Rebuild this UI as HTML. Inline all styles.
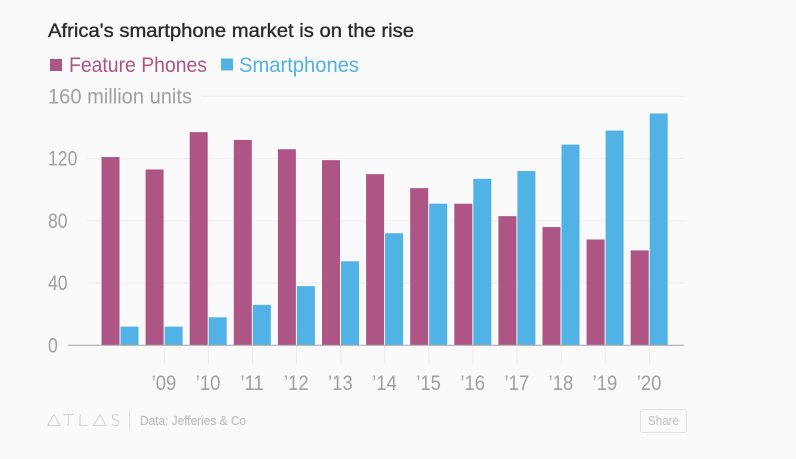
<!DOCTYPE html>
<html>
<head>
<meta charset="utf-8">
<style>
html,body{margin:0;padding:0;background:#fafafa;width:796px;height:459px;overflow:hidden}
svg{display:block;font-family:"Liberation Sans",sans-serif}
</style>
</head>
<body>
<svg id="chart" width="796" height="459" viewBox="0 0 796 459" xmlns="http://www.w3.org/2000/svg">
<rect width="796" height="459" fill="#fafafa"/>
<text x="48" y="37" font-size="19" fill="#2b2b2b" stroke="#2b2b2b" stroke-width="0.35" textLength="366" lengthAdjust="spacingAndGlyphs">Africa's smartphone market is on the rise</text>
<rect x="50" y="59" width="12" height="12" fill="#ad5685"/>
<text x="69" y="72" font-size="21" fill="#ad5685" textLength="138" lengthAdjust="spacingAndGlyphs">Feature Phones</text>
<rect x="221" y="58.5" width="12" height="12" fill="#51b2e5"/>
<text x="239" y="72" font-size="21" fill="#51b2e5" textLength="120" lengthAdjust="spacingAndGlyphs">Smartphones</text>
<g id="grid"></g>
<g id="ticks"></g>
<g id="bars"></g>
<g id="labels"></g>
<line x1="68" x2="684" y1="345.3" y2="345.3" stroke="#a8a4a0" stroke-width="1"/>
<g fill="none" stroke="#d0d0d0" stroke-width="1">
<path d="M47.5 425.5 L54 414.5 L60 425.5 Z"/>
<path d="M63.5 414.5 H73.5 M68.5 414.5 V425.5"/>
<path d="M80 414.5 V425.5 H88"/>
<path d="M93.5 425.5 L100 414.5 L106 425.5 Z"/>
<path d="M118.5 416 C116 413.5 112 414.5 112.5 417.5 C113 420.5 119 419.5 119 423 C119 426.5 114 426.5 112 424"/>
</g>
<line x1="129.5" x2="129.5" y1="412" y2="429" stroke="#dedede" stroke-width="1"/>
<text x="140" y="425" font-size="12.5" fill="#c2c0bd" stroke="#c2c0bd" stroke-width="0.2" textLength="106" lengthAdjust="spacingAndGlyphs">Data: Jefferies &amp; Co</text>
<g>
<rect x="640.5" y="409.5" width="46" height="23" rx="2" fill="#fafafa" stroke="#e2e2e2" stroke-width="1"/>
<text x="663.5" y="425" font-size="12.5" fill="#c0c0c0" text-anchor="middle" textLength="31" lengthAdjust="spacingAndGlyphs">Share</text>
</g>
</svg>
<script>
var years = ["2008","’09","’10","’11","’12","’13","’14","’15","’16","’17","’18","’19","’20"];
var featurePhones = [121,113,137,132,126,119,110,101,91,83,76,68,61];
var smartphones = [12,12,18,26,38,54,72,91,107,112,129,138,149];
var yTicks = [0,40,80,120,160];

var NS = "http://www.w3.org/2000/svg";
function yScale(v){ return 345.3 - v * 1.556; }
function xScale(i){ return 120.2 + i * 44.1; }

function make(tag, attrs, parent){
  var el = document.createElementNS(NS, tag);
  for (var k in attrs) el.setAttribute(k, attrs[k]);
  document.getElementById(parent).appendChild(el);
  return el;
}

function squeeze(el, factor){
  var w = el.getComputedTextLength();
  el.setAttribute("textLength", (w * factor).toFixed(1));
  el.setAttribute("lengthAdjust", "spacingAndGlyphs");
}

yTicks.forEach(function(t){
  var y = yScale(t);
  if (t > 0) {
    var line = make("line", {x1: t === 160 ? 201 : 87, x2: 684, y1: y, y2: y, stroke: "#efefef", "stroke-width": 1}, "grid");
    
    
  }
  var label = make("text", {x: 48, y: y + 7, "font-size": 21.5, fill: "#a3a09c"}, "labels");
  
  
  label.textContent = t === 160 ? "160 million units" : String(t);
  if (t === 160) {
    label.setAttribute("textLength", "144");
    label.setAttribute("lengthAdjust", "spacingAndGlyphs");
  } else {
    squeeze(label, 0.82);
  }
});

years.forEach(function(year, i){
  var x = xScale(i);
  var fy = yScale(featurePhones[i]);
  var sy = yScale(smartphones[i]);
  var fBar = make("rect", {x: x - 18.7, y: fy, width: 18, height: yScale(0) - fy, fill: "#ad5685"}, "bars");
  
  
  var sBar = make("rect", {x: x + 0.3, y: sy, width: 18, height: yScale(0) - sy, fill: "#51b2e5"}, "bars");
  
  
  if (i > 0) {
    var tick = make("line", {x1: x, x2: x, y1: 345.3, y2: 363.5, stroke: "#ececec", "stroke-width": 1}, "ticks");
    
    
    var label = make("text", {x: x - 0.3, y: 390, "font-size": 21.5, fill: "#a3a09c", "text-anchor": "middle"}, "labels");
    
    
    label.textContent = year;
    squeeze(label, 0.86);
  }
});
</script>
</body>
</html>
